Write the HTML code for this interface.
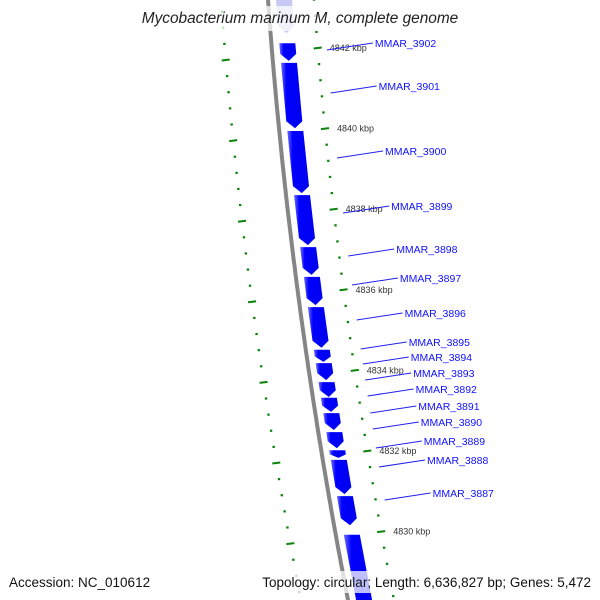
<!DOCTYPE html>
<html><head><meta charset="utf-8"><style>
html,body{margin:0;padding:0;background:#fff;}
svg{display:block;font-family:"Liberation Sans","DejaVu Sans",sans-serif;}
</style></head><body>
<svg id="map" width="600" height="600" viewBox="0 0 600 600" xmlns="http://www.w3.org/2000/svg">
<defs>
<linearGradient id="gg" x1="0" x2="1" y1="0" y2="0">
<stop offset="0" stop-color="#6f6fff"/><stop offset="0.25" stop-color="#0000ff"/><stop offset="1" stop-color="#0000ee"/>
</linearGradient>
</defs>
<g id="back"></g>
<g id="ticks"></g>
<g id="genes"></g>
<g id="labels"></g>
<rect x="0" y="6" width="600" height="25" fill="#fff" fill-opacity="0.75"/>
<text x="300" y="23" text-anchor="middle" font-size="15.4" font-style="italic" fill="#222">Mycobacterium marinum M, complete genome</text>
<rect x="0" y="571" width="600" height="22" fill="#fff" fill-opacity="0.75"/>
<text x="9" y="587" font-size="13.5" fill="#111">Accession: NC_010612</text>
<text x="591" y="587" text-anchor="end" font-size="13.5" fill="#111">Topology: circular; Length: 6,636,827 bp; Genes: 5,472</text>
</svg>
<script>
// data
const geneNames = ["","MMAR_3902","MMAR_3901","MMAR_3900","MMAR_3899","MMAR_3898","MMAR_3897","MMAR_3896","MMAR_3895","MMAR_3894","MMAR_3893","MMAR_3892","MMAR_3891","MMAR_3890","MMAR_3889","MMAR_3888","MMAR_3887",""];
const geneStartKbp = [4843.44,4842.12,4841.63,4839.94,4838.35,4837.06,4836.32,4835.57,4834.51,4834.18,4833.71,4833.32,4832.94,4832.47,4832.02,4831.78,4830.88,4829.92];
const geneEndKbp   = [4842.37,4841.68,4840.01,4838.40,4837.11,4836.37,4835.62,4834.56,4834.21,4833.76,4833.34,4832.97,4832.52,4832.07,4831.83,4830.93,4830.16,4827.80];
const labelYs = [0,43,86,151,206,249,278,313,342,357,373,389,406,422,441,460,493,0];
const majorTicks = [4842,4840,4838,4836,4834,4832,4830];
const tickLabels = ["4842 kbp","4840 kbp","4838 kbp","4836 kbp","4834 kbp","4832 kbp","4830 kbp"];

const NS="http://www.w3.org/2000/svg";
function mk(tag,attrs,parent){const e=document.createElementNS(NS,tag);for(const k in attrs)e.setAttribute(k,attrs[k]);parent.appendChild(e);return e;}
function yOf(kbp){return 48+(4842-kbp)*40.3;}
function bx(y){return 268+0.0727*y+0.000101*y*y;}

const back=document.getElementById('back');
let d="";for(let y=-5;y<=605;y+=5){d+=(y===-5?"M":"L")+bx(y).toFixed(1)+" "+y;}
const bl=mk('path',{d:d,fill:'none',stroke:'#858585','stroke-width':4},back);



const ticks=document.getElementById('ticks');
for(let k=4843.6;k>=4828;k-=0.4){
  const kk=Math.round(k*10)/10;const y=yOf(kk);
  const isMaj=Math.abs(kk-Math.round(kk))<0.01 && Math.round(kk)%2===0;
  const x=bx(y)+46;
  const t=mk('line',{x1:x-(isMaj?4:1.2),x2:x+(isMaj?4:1.2),y1:y+(isMaj?0.5:0),y2:y-(isMaj?0.5:0),stroke:'#0a840a','stroke-width':isMaj?2:2.2},ticks);
  
  
}
majorTicks.forEach((m,i)=>{
  const y=yOf(m);const x=bx(y)+46;
  const t=mk('text',{x:x+12,y:y+3,'font-size':9,fill:'#333'},ticks);
  t.textContent=tickLabels[i];
  
  
});
for(let k=4843.6;k>=4828;k-=0.4){
  const kk=Math.round(k*10)/10;const y=yOf(kk)+12;
  const isMaj=Math.abs(kk-Math.round(kk))<0.01 && Math.round(kk)%2===0;
  const x=bx(y)-47;
  const t=mk('line',{x1:x-(isMaj?4:1.2),x2:x+(isMaj?4:1.2),y1:y+(isMaj?0.5:0),y2:y-(isMaj?0.5:0),stroke:'#0a840a','stroke-width':isMaj?2:2.2},ticks);
  
  
}

const genes=document.getElementById('genes');const labels=document.getElementById('labels');
geneStartKbp.forEach((s,i)=>{
  const y1=yOf(s),y2=yOf(geneEndKbp[i]);
  const head=Math.min(7,(y2-y1)*0.45);
  const yh=y2-head;
  const a=bx(y1),b=bx(yh),c=bx(y2);
  const pts=[[a+8,y1],[a+24,y1],[b+24,yh],[c+16,y2],[b+8,yh]].map(p=>p[0].toFixed(1)+","+p[1].toFixed(1)).join(" ");
  const g=mk('polygon',{points:pts,fill:i===0?'#c8c8f4':'url(#gg)'},genes);
  
  
  if(geneNames[i]){
    const ly=labelYs[i];
    const ln=mk('line',{x1:bx(ly+7)+55,y1:ly+7,x2:0,y2:ly,stroke:'#2020ee','stroke-width':1},labels);
    const tx=mk('text',{x:0,y:ly+4,'font-size':10.5,fill:'#1010ff'},labels);
    tx.textContent=geneNames[i];
    const textX=bx(ly+7)+103;
    tx.setAttribute('x',textX.toFixed(1));
    ln.setAttribute('x2',(textX-2).toFixed(1));
    
    
    
    
  }
});
</script>
</body></html>
